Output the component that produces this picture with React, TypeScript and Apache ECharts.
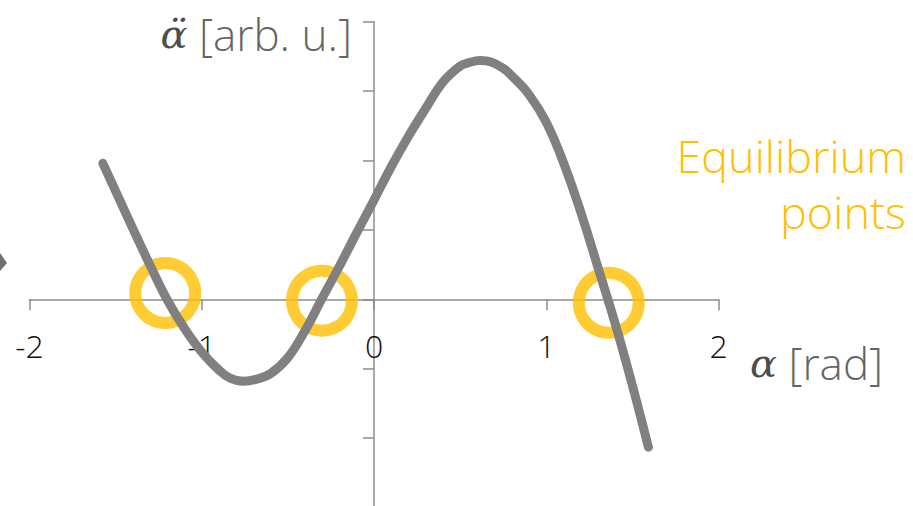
import { useEffect, useRef } from "react";
import * as echarts from "echarts";

// Angular acceleration of the system versus angle, sampled along the curve
// (denser around the local minimum and maximum)
const ALPHA = [
  -1.574, -1.5, -1.4, -1.3, -1.2, -1.1, -1.0, -0.9, -0.84, -0.76, -0.68, -0.6, -0.5,
  -0.4, -0.3, -0.2, -0.1, 0.0, 0.1, 0.2, 0.3, 0.4, 0.5, 0.55, 0.616, 0.68, 0.75, 0.8,
  0.9, 1.0, 1.1, 1.2, 1.3, 1.4, 1.5, 1.593,
];
const ACCEL = [
  1.96, 1.56, 1.02, 0.49, -0.01, -0.42, -0.76, -1.02, -1.13, -1.18, -1.15, -1.07, -0.84,
  -0.45, 0.02, 0.48, 0.96, 1.43, 1.91, 2.35, 2.75, 3.13, 3.36, 3.41, 3.44, 3.42, 3.33, 3.22,
  2.95, 2.55, 1.97, 1.26, 0.46, -0.35, -1.24, -2.13,
];

// Equilibrium points (zero crossings) highlighted with rings
const EQ_ALPHA = [-1.212, -0.302, 1.363];
const EQ_ACCEL = [0.09, -0.02, -0.05];

// Axis ranges and ticks
const X_MIN = -2;
const X_MAX = 2;
const Y_MIN = -3;
const Y_MAX = 4;

const GRID_LEFT = 29.5;
const GRID_TOP = 21.7;
const GRID_W = 689;
const GRID_H = 485.8;

const LIGHT = "'Segoe UI Light', 'Open Sans', Lato, sans-serif";
const MATH = "'Cambria Math', 'DejaVu Serif', 'Liberation Serif', serif";
const AXIS_GRAY = "#8c8c8c";
const ORANGE = "#FFC000";

export default function App() {
  const ref = useRef<HTMLDivElement>(null);

  useEffect(() => {
    if (!ref.current) return;
    const chart = echarts.init(ref.current, undefined, { renderer: "svg" });

    const lineStyle = { color: AXIS_GRAY, width: 1.5 };
    const axisTick = { show: true, length: 11, lineStyle };
    // the horizontal axis sits on the zero line: lift it from the grid bottom
    const zeroOffset = -(GRID_H * (0 - Y_MIN)) / (Y_MAX - Y_MIN);

    chart.setOption({
      animation: false,
      backgroundColor: "#ffffff",
      grid: {
        left: GRID_LEFT,
        top: GRID_TOP,
        width: GRID_W,
        height: GRID_H,
        outerBoundsMode: "none",
        containLabel: false,
      },
      xAxis: {
        type: "value",
        min: X_MIN,
        max: X_MAX,
        interval: 1,
        position: "bottom",
        offset: zeroOffset,
        axisLine: { onZero: false, lineStyle },
        axisTick,
        splitLine: { show: false },
        axisLabel: {
          color: "#111111",
          fontFamily: LIGHT,
          fontWeight: 300,
          fontSize: 32,
          margin: 30,
        },
      },
      yAxis: {
        type: "value",
        min: Y_MIN,
        max: Y_MAX,
        interval: 1,
        axisLine: { onZero: true, lineStyle },
        axisTick,
        splitLine: { show: false },
        axisLabel: { show: false },
      },
      series: [
        {
          type: "scatter",
          data: EQ_ALPHA.map((a, i) => [a, EQ_ACCEL[i]]),
          symbol: "circle",
          symbolSize: 60,
          itemStyle: { color: "rgba(0,0,0,0)", borderColor: ORANGE, borderWidth: 12 },
          z: 2,
        },
        {
          type: "line",
          data: ALPHA.map((a, i) => [a, ACCEL[i]]),
          smooth: 0.4,
          showSymbol: false,
          lineStyle: { color: "#808080", width: 9, cap: "round", join: "round" },
          z: 3,
        },
      ],
      graphic: [
        {
          type: "polygon",
          shape: { points: [[0, 253], [7, 263], [0, 271]] },
          style: { fill: "#707070" },
        },
        {
          type: "text",
          x: 352,
          y: 34,
          style: {
            text: "{a|α̈}{b| [arb. u.]}",
            align: "right",
            verticalAlign: "middle",
            rich: {
              a: { fontFamily: MATH, fontStyle: "italic", fontSize: 40, fill: "#4d4d4d" },
              b: { fontFamily: LIGHT, fontWeight: 300, fontSize: 44, fill: "#666666" },
            },
          },
        },
        {
          type: "text",
          x: 750,
          y: 363,
          style: {
            text: "{a|α}{b| [rad]}",
            align: "left",
            verticalAlign: "middle",
            rich: {
              a: { fontFamily: MATH, fontStyle: "italic", fontSize: 40, fill: "#4d4d4d" },
              b: { fontFamily: LIGHT, fontWeight: 300, fontSize: 44, fill: "#666666" },
            },
          },
        },
        {
          type: "text",
          x: 906,
          y: 127,
          style: {
            text: "Equilibrium\npoints",
            align: "right",
            verticalAlign: "top",
            fontFamily: LIGHT,
            fontWeight: 300,
            fontSize: 45,
            lineHeight: 56,
            fill: ORANGE,
          },
        },
      ],
    });

    return () => chart.dispose();
  }, []);

  return (
    <div
      ref={ref}
      style={{ position: "fixed", left: 0, top: 0, width: 913, height: 506 }}
    />
  );
}
